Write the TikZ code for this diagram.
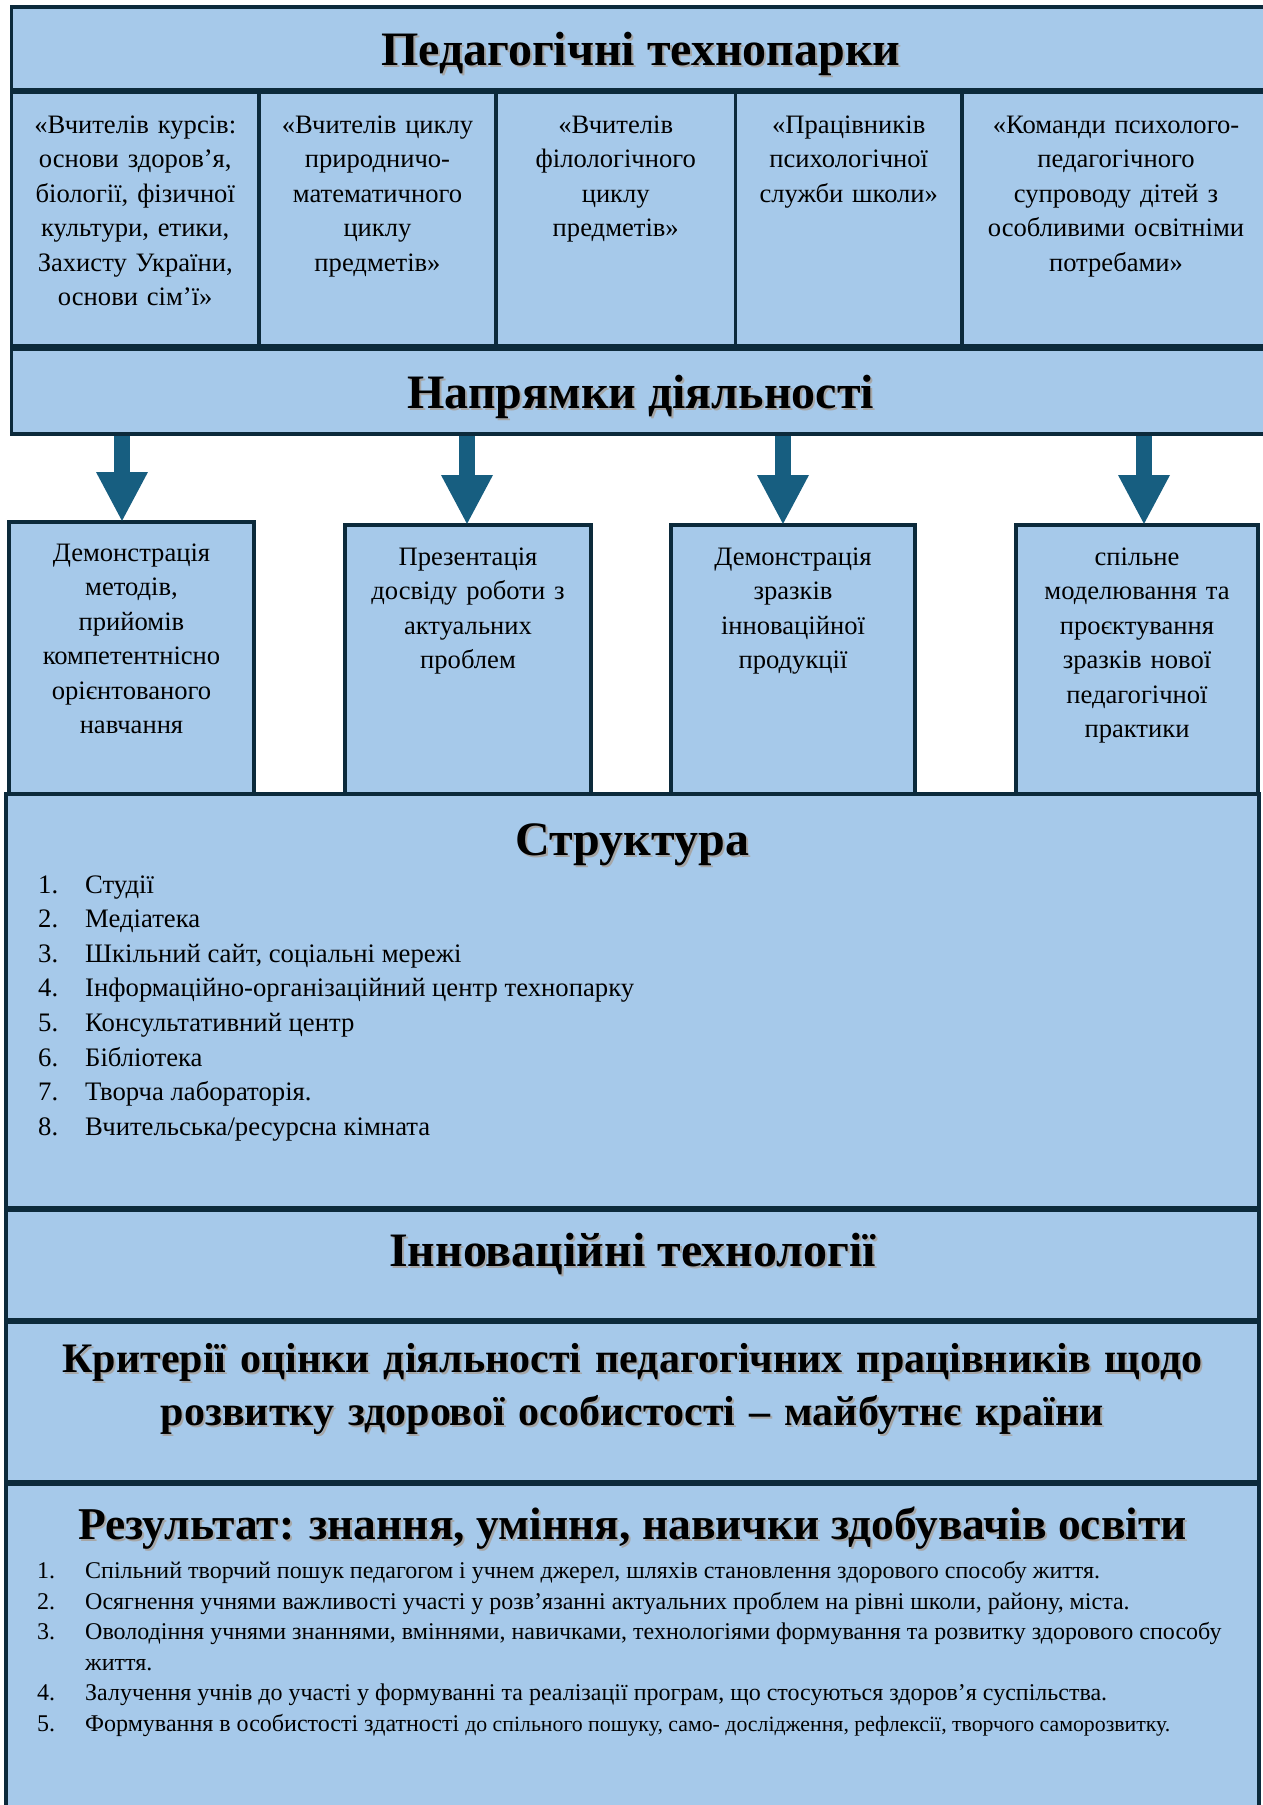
\documentclass[tikz,border=0pt]{standalone}
\usepackage{fontspec}
\setmainfont{Liberation Serif}
\usetikzlibrary{positioning,arrows.meta}
\definecolor{parkfill}{HTML}{A6C9EA}
\definecolor{parkline}{HTML}{0C2A3B}
\definecolor{flowblue}{HTML}{175E80}
\newcommand{\shd}[1]{\leavevmode\rlap{\kern2pt\raisebox{-2pt}{\textcolor{black!35}{#1}}}#1}

\begin{document}
\begin{tikzpicture}[
  x=1pt, y=-1pt,
  panel/.style={rectangle, draw=parkline, fill=parkfill, line width=3.5pt,
    inner sep=0pt, outer sep=0pt, anchor=north west},
  headtxt/.style={font=\fontsize{48}{52}\selectfont\bfseries, inner sep=0pt},
  boxtxt/.style={font=\fontsize{26.6}{34.5}\selectfont, align=center, inner sep=0pt},
  listtxt/.style={font=\fontsize{26.7}{34.6}\selectfont, inner sep=0pt},
  restxt/.style={font=\fontsize{24}{30.5}\selectfont, inner sep=0pt},
  flow/.style={draw=flowblue, line width=16pt, shorten <=2pt,
    -{Triangle[width=48pt,length=50pt]}}
]
\useasboundingbox (0,0) rectangle (1263,1805);

% top block: technoparks
\node[panel, minimum width=1258.5pt, minimum height=82.5pt] (park) at (11.5,7) {};
\node[headtxt, below=58pt of park.north, anchor=base] (parkt) {\shd{Педагогічні технопарки}};

\node[panel, minimum width=247.5pt, minimum height=253.5pt] (c1) at (11.5,92.5) {};
\node[panel, minimum width=237pt, minimum height=253.5pt, right=0pt of c1] (c2) {};
\node[panel, minimum width=239.5pt, minimum height=253.5pt, right=0pt of c2] (c3) {};
\node[panel, minimum width=226.5pt, minimum height=253.5pt, right=0pt of c3] (c4) {};
\node[panel, minimum width=308pt, minimum height=253.5pt, right=0pt of c4] (c5) {};

\node[boxtxt, text width=244pt, below=40.5pt of c1.north, anchor=base] (c1t) {«Вчителів курсів:\\
  основи здоров’я,\\ біології, фізичної\\ культури, етики,\\ Захисту України,\\ основи сім’ї»};
\node[boxtxt, text width=234pt, below=40.5pt of c2.north, anchor=base] (c2t) {«Вчителів циклу\\
  природничо-\\ математичного\\ циклу\\ предметів»};
\node[boxtxt, text width=234pt, below=40.5pt of c3.north, anchor=base] (c3t) {«Вчителів\\
  філологічного\\ циклу\\ предметів»};
\node[boxtxt, text width=224pt, below=40.5pt of c4.north, anchor=base] (c4t) {«Працівників\\
  психологічної\\ служби школи»};
\node[boxtxt, text width=300pt, below=40.5pt of c5.north, anchor=base] (c5t) {«Команди психолого-\\
  педагогічного\\ супроводу дітей з\\ особливими освітніми\\ потребами»};

\node[panel, minimum width=1258.5pt, minimum height=85pt] (np) at (11.5,349) {};
\node[headtxt, below=59pt of np.north, anchor=base] (npt) {\shd{Напрямки діяльності}};

% directions
\node[panel, minimum width=245pt, minimum height=272pt] (b1) at (9,522) {};
\node[panel, minimum width=246pt, minimum height=269pt] (b2) at (345,525) {};
\node[panel, minimum width=244pt, minimum height=269pt] (b3) at (671,525) {};
\node[panel, minimum width=242pt, minimum height=269pt] (b4) at (1016,525) {};

\node[boxtxt, text width=242pt, below=39pt of b1.north, anchor=base] (b1t) {Демонстрація\\
  методів,\\ прийомів\\ компетентнісно\\ орієнтованого\\ навчання};
\node[boxtxt, text width=242pt, below=40pt of b2.north, anchor=base] (b2t) {Презентація\\
  досвіду роботи з\\ актуальних\\ проблем};
\node[boxtxt, text width=240pt, below=40pt of b3.north, anchor=base] (b3t) {Демонстрація\\
  зразків\\ інноваційної\\ продукції};
\node[boxtxt, text width=238pt, below=40pt of b4.north, anchor=base] (b4t) {спільне\\
  моделювання та\\ проєктування\\ зразків нової\\ педагогічної\\ практики};

\coordinate (a1) at ([xshift=-9.5pt]b1.north);
\coordinate (a2) at ([xshift=-1pt]b2.north);
\coordinate (a3) at ([xshift=-10pt]b3.north);
\coordinate (a4) at ([xshift=7pt]b4.north);
\foreach \a in {a1,a2,a3,a4}
  \draw[flow] (\a |- np.south) -- (\a);

% structure
\node[panel, minimum width=1253pt, minimum height=413.5pt] (st) at (6,794) {};
\node[headtxt, below=61pt of st.north, anchor=base] (stt) {\shd{Структура}};
\node[listtxt, below=99pt of st.north west, anchor=base west, xshift=32pt] (stl) {%
  \begin{tabular}[t]{@{}p{47pt}@{}l@{}}
  1. & Студії\\
  2. & Медіатека\\
  3. & Шкільний сайт, соціальні мережі\\
  4. & Інформаційно-організаційний центр технопарку\\
  5. & Консультативний центр\\
  6. & Бібліотека\\
  7. & Творча лабораторія.\\
  8. & Вчительська/ресурсна кімната
  \end{tabular}};

\node[panel, minimum width=1253pt, minimum height=109pt, below=3pt of st.south west, anchor=north west] (inn) {};
\node[headtxt, below=56pt of inn.north, anchor=base] (innt) {\shd{Інноваційні технології}};

\node[panel, minimum width=1253pt, minimum height=159pt, below=3pt of inn.south west, anchor=north west] (crit) {};
\node[headtxt, font=\fontsize{42}{53}\selectfont\bfseries, align=center, text width=1245pt,
  below=50pt of crit.north, anchor=base] (critt) {\shd{Критерії оцінки діяльності педагогічних працівників щодо}\\
  \shd{розвитку здорової особистості – майбутнє країни}};

\node[panel, minimum width=1253pt, minimum height=346pt, below=3pt of crit.south west, anchor=north west] (res) {};
\node[headtxt, font=\fontsize{45.5}{50}\selectfont\bfseries, below=55pt of res.north, anchor=base] (rest) {\shd{Результат: знання, уміння, навички здобувачів освіти}};
\node[restxt, below=94pt of res.north west, anchor=base west, xshift=31pt] (resl) {%
  \begin{tabular}[t]{@{}p{48pt}@{}l@{}}
  1. & Спільний творчий пошук педагогом і учнем джерел, шляхів становлення здорового способу життя.\\
  2. & Осягнення учнями важливості участі у розв’язанні актуальних проблем на рівні школи, району, міста.\\
  3. & Оволодіння учнями знаннями, вміннями, навичками, технологіями формування та розвитку здорового способу\\
     & життя.\\
  4. & Залучення учнів до участі у формуванні та реалізації програм, що стосуються здоров’я суспільства.\\
  5. & Формування в особистості здатності {\fontsize{21.8}{30.5}\selectfont до спільного пошуку, само- дослідження, рефлексії, творчого саморозвитку.}
  \end{tabular}};

\end{tikzpicture}
\end{document}
